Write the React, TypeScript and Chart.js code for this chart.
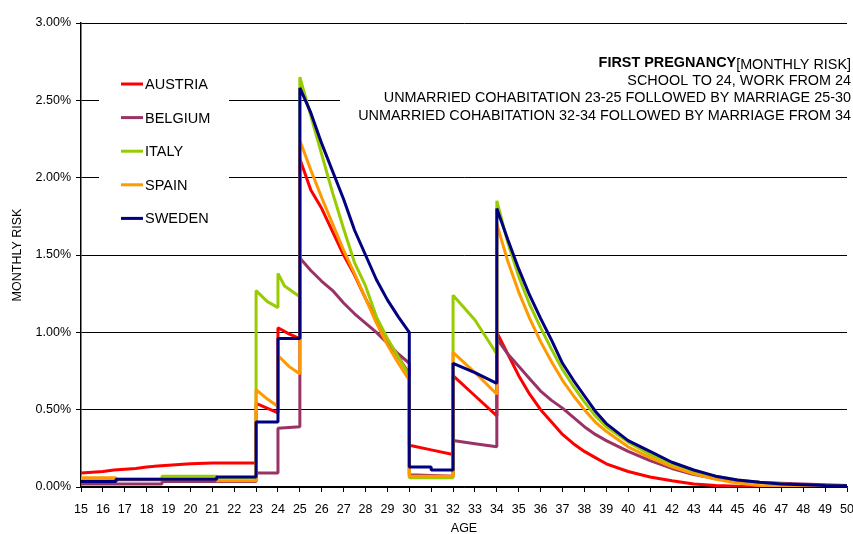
import { useEffect, useRef } from "react";
import { Chart, registerables } from "chart.js";

Chart.register(...registerables);

// ---- data (age in years, monthly risk in %) ----
const SERIES_NAMES = ["AUSTRIA", "BELGIUM", "ITALY", "SPAIN", "SWEDEN"];
const SERIES_COLORS = ["#FF0000", "#993366", "#99CC00", "#FF9900", "#000080"];

const AUSTRIA: [number, number][] = [
  [15, 0.09], [15.5, 0.095], [16, 0.1], [16.5, 0.11], [17, 0.115], [17.5, 0.12], [18, 0.13], [18.5, 0.135],
  [19, 0.14], [19.5, 0.145], [20, 0.15], [21, 0.155], [22, 0.155], [23, 0.155],
  [23, 0.54], [23.5, 0.51], [24, 0.48],
  [24, 1.03], [24.5, 0.99], [25, 0.96],
  [25, 2.12], [25.5, 1.92], [26, 1.8], [26.5, 1.65], [27, 1.5], [27.5, 1.37], [28, 1.22], [28.5, 1.08],
  [29, 0.95], [29.5, 0.84], [30, 0.73],
  [30, 0.27], [31, 0.24], [32, 0.21],
  [32, 0.72], [33, 0.59], [34, 0.46],
  [34, 1.0], [34.5, 0.86], [35, 0.72], [35.5, 0.6], [36, 0.5], [36.5, 0.42], [37, 0.34], [37.5, 0.28],
  [38, 0.23], [38.5, 0.19], [39, 0.15], [40, 0.1], [41, 0.065], [42, 0.04], [43, 0.02], [44, 0.01],
  [45, 0.005], [46, 0.003], [48, 0.001], [50, 0],
];

const BELGIUM: [number, number][] = [
  [15, 0.02], [18.7, 0.02], [18.7, 0.035], [23, 0.035],
  [23, 0.09], [24, 0.09],
  [24, 0.38], [25, 0.39],
  [25, 1.48], [25.5, 1.4], [26, 1.33], [26.5, 1.27], [27, 1.19], [27.5, 1.12], [28, 1.06], [28.5, 1.0],
  [29, 0.93], [29.5, 0.86], [30, 0.8],
  [30, 0.08], [32, 0.07],
  [32, 0.3], [33, 0.28], [34, 0.26],
  [34, 0.96], [34.5, 0.86], [35, 0.78], [35.5, 0.7], [36, 0.62], [36.5, 0.56], [37, 0.51], [37.5, 0.45],
  [38, 0.39], [38.5, 0.34], [39, 0.3], [40, 0.23], [41, 0.17], [42, 0.12], [43, 0.08], [44, 0.055],
  [45, 0.04], [46, 0.03], [47, 0.025], [48, 0.02], [49, 0.015], [50, 0.01],
];

const ITALY: [number, number][] = [
  [15, 0.045], [18.7, 0.045], [18.7, 0.07], [21.2, 0.07], [21.2, 0.06], [23, 0.06],
  [23, 1.27], [23.5, 1.2], [24, 1.16],
  [24, 1.38], [24.3, 1.3], [25, 1.23],
  [25, 2.65], [25.5, 2.4], [26, 2.15], [26.5, 1.9], [27, 1.67], [27.5, 1.45], [28, 1.3], [28.5, 1.1],
  [29, 0.96], [29.5, 0.84], [30, 0.72],
  [30, 0.06], [32, 0.06],
  [32, 1.24], [33, 1.08], [34, 0.86],
  [34, 1.85], [34.5, 1.58], [35, 1.36], [35.5, 1.18], [36, 1.03], [36.5, 0.89], [37, 0.76], [37.5, 0.65],
  [38, 0.55], [38.5, 0.46], [39, 0.39], [40, 0.29], [41, 0.21], [42, 0.15], [43, 0.1], [44, 0.07],
  [45, 0.045], [46, 0.03], [47, 0.02], [48, 0.012], [49, 0.008], [50, 0.005],
];

const SPAIN: [number, number][] = [
  [15, 0.06], [16.6, 0.06], [16.6, 0.05], [21.2, 0.05], [21.2, 0.04], [23, 0.04],
  [23, 0.63], [23.5, 0.57], [24, 0.52],
  [24, 0.85], [24.5, 0.78], [25, 0.73],
  [25, 2.24], [25.5, 2.05], [26, 1.87], [26.5, 1.7], [27, 1.53], [27.5, 1.38], [28, 1.22], [28.5, 1.06],
  [29, 0.92], [29.5, 0.8], [30, 0.69],
  [30, 0.07], [32, 0.07],
  [32, 0.87], [33, 0.74], [34, 0.6],
  [34, 1.7], [34.5, 1.46], [35, 1.26], [35.5, 1.09], [36, 0.94], [36.5, 0.81], [37, 0.69], [37.5, 0.59],
  [38, 0.5], [38.5, 0.42], [39, 0.36], [40, 0.26], [41, 0.19], [42, 0.13], [43, 0.085], [44, 0.05],
  [45, 0.025], [46, 0.01], [47, 0.005], [48, 0.003], [50, 0.002],
];

const SWEDEN: [number, number][] = [
  [15, 0.035], [16.6, 0.035], [16.6, 0.05], [21.2, 0.05], [21.2, 0.065], [23, 0.065],
  [23, 0.42], [24, 0.42],
  [24, 0.96], [25, 0.96],
  [25, 2.58], [25.5, 2.42], [26, 2.22], [26.5, 2.04], [27, 1.86], [27.5, 1.66], [28, 1.5], [28.5, 1.34],
  [29, 1.21], [29.5, 1.1], [30, 1.0],
  [30, 0.13], [31, 0.13], [31, 0.11], [32, 0.11],
  [32, 0.8], [33, 0.74], [34, 0.67],
  [34, 1.8], [34.5, 1.6], [35, 1.41], [35.5, 1.24], [36, 1.09], [36.5, 0.95], [37, 0.8], [37.5, 0.69],
  [38, 0.59], [38.5, 0.49], [39, 0.41], [40, 0.3], [41, 0.23], [42, 0.16], [43, 0.11], [44, 0.07],
  [45, 0.045], [46, 0.03], [47, 0.02], [48, 0.015], [49, 0.01], [50, 0.008],
];

const SERIES_DATA = [AUSTRIA, BELGIUM, ITALY, SPAIN, SWEDEN];

const AGE_MIN = 15;
const AGE_MAX = 50;
const RISK_MIN = 0;
const RISK_MAX = 3;
const RISK_STEP = 0.5;

const NOTE_TITLE_BOLD = "FIRST PREGNANCY";
const NOTE_TITLE_REST = "[MONTHLY RISK]";
const NOTE_LINES = [
  "SCHOOL TO 24, WORK FROM 24",
  "UNMARRIED COHABITATION 23-25 FOLLOWED BY MARRIAGE 25-30",
  "UNMARRIED COHABITATION 32-34 FOLLOWED BY MARRIAGE FROM 34",
];

const FONT = "'Liberation Sans', Arial, sans-serif";

export default function App() {
  const ref = useRef<HTMLCanvasElement>(null);

  useEffect(() => {
    if (!ref.current) return;

    const boxLegend = {
      id: "boxLegend",
      beforeDatasetsDraw(chart: any) {
        const ctx = chart.ctx;
        ctx.save();
        ctx.fillStyle = "#ffffff";
        // legend box and note box backgrounds
        ctx.fillRect(99, 66, 130, 170);
        ctx.fillRect(340, 46, 513, 78);
        ctx.font = `14.5px ${FONT}`;
        ctx.textBaseline = "middle";
        ctx.textAlign = "left";
        SERIES_NAMES.forEach((name, i) => {
          const y = 84 + i * 33.6;
          ctx.strokeStyle = SERIES_COLORS[i];
          ctx.lineWidth = 3;
          ctx.beginPath();
          ctx.moveTo(121, y);
          ctx.lineTo(143, y);
          ctx.stroke();
          ctx.fillStyle = "#000000";
          ctx.fillText(name, 145, y + 1);
        });
        ctx.restore();
      },
      afterDraw(chart: any) {
        const ctx = chart.ctx;
        ctx.save();
        ctx.fillStyle = "#000000";
        ctx.textAlign = "right";
        ctx.textBaseline = "alphabetic";
        const right = 851;
        ctx.font = `14.4px ${FONT}`;
        const restW = ctx.measureText(NOTE_TITLE_REST).width;
        ctx.fillText(NOTE_TITLE_REST, right, 69);
        ctx.font = `bold 14.4px ${FONT}`;
        ctx.fillText(NOTE_TITLE_BOLD, right - restW, 67);
        ctx.font = `14.4px ${FONT}`;
        NOTE_LINES.forEach((t, i) => {
          ctx.fillText(t, right, 84.5 + i * 17.8);
        });
        ctx.restore();
      },
    };

    const chart = new Chart(ref.current, {
      type: "line",
      data: {
        datasets: SERIES_NAMES.map((name, i) => ({
          label: name,
          data: SERIES_DATA[i].map(([x, y]) => ({ x, y })),
          borderColor: SERIES_COLORS[i],
          backgroundColor: SERIES_COLORS[i],
          borderWidth: 3,
          borderJoinStyle: "bevel" as const,
          pointRadius: 0,
          tension: 0,
          fill: false,
          order: SERIES_NAMES.length - i,
        })),
      },
      options: {
        responsive: false,
        animation: false,
        layout: { padding: { top: 23, right: 6, left: 0, bottom: 0 } },
        plugins: {
          legend: { display: false },
          tooltip: { enabled: false },
        },
        scales: {
          x: {
            type: "linear",
            min: AGE_MIN,
            max: AGE_MAX,
            border: { color: "#000000", width: 1.5 },
            grid: { drawOnChartArea: false, drawTicks: true, tickLength: 5, color: "#000000" },
            ticks: {
              stepSize: 1,
              maxTicksLimit: 40,
              autoSkip: false,
              maxRotation: 0,
              padding: 10,
              color: "#000000",
              font: { family: FONT, size: 12.5 },
            },
            title: {
              display: true,
              text: "AGE",
              color: "#000000",
              font: { family: FONT, size: 12.5, lineHeight: 0.8 },
              padding: { top: 0, bottom: 0 },
            },
            afterFit(scale: any) {
              scale.height = 47;
              scale.paddingLeft = 0;
              scale.paddingRight = 0;
            },
          },
          y: {
            type: "linear",
            min: RISK_MIN,
            max: RISK_MAX,
            border: { color: "#000000", width: 1.5 },
            grid: { drawOnChartArea: true, drawTicks: true, tickLength: 5, color: "#000000", lineWidth: 1 },
            ticks: {
              stepSize: RISK_STEP,
              padding: 5,
              color: "#000000",
              font: { family: FONT, size: 12.5 },
              callback: (v: any) => Number(v).toFixed(2) + "%",
            },
            title: {
              display: true,
              text: "MONTHLY RISK",
              color: "#000000",
              font: { family: FONT, size: 12.5, lineHeight: 1 },
              padding: { top: 11, bottom: 0 },
            },
            afterFit(scale: any) {
              scale.width = 81;
              scale.paddingTop = 0;
              scale.paddingBottom = 0;
            },
          },
        },
      },
      plugins: [boxLegend],
    });

    return () => chart.destroy();
  }, []);

  return (
    <div style={{ position: "fixed", left: 0, top: 0, width: 853, height: 534, background: "#ffffff" }}>
      <canvas ref={ref} width={853} height={534} style={{ width: 853, height: 534, display: "block" }} />
    </div>
  );
}
